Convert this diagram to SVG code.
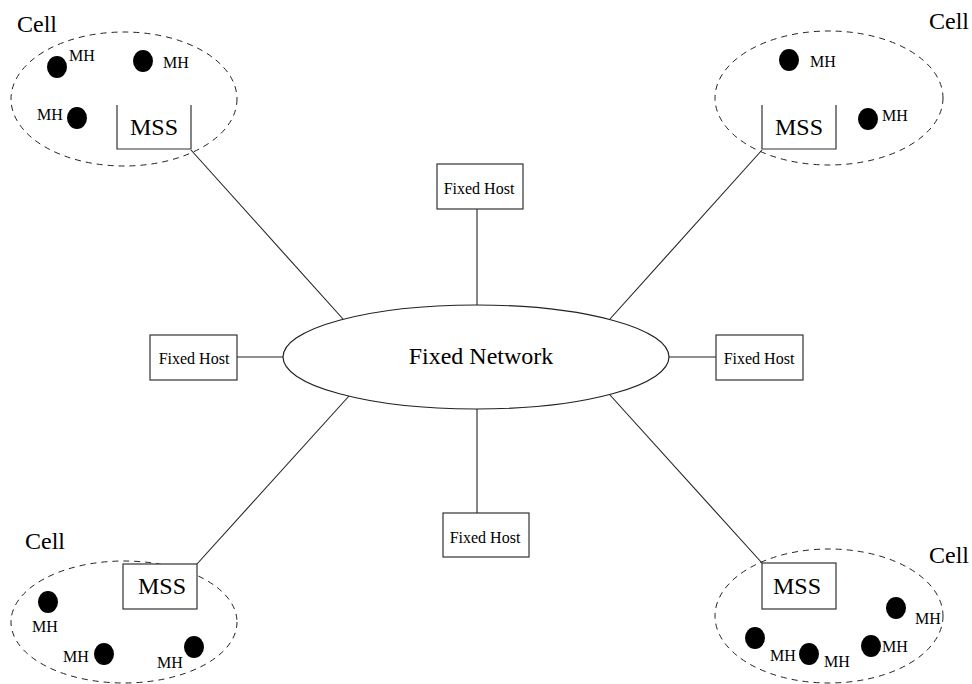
<svg xmlns="http://www.w3.org/2000/svg" width="972" height="684" viewBox="0 0 972 684">
  <style>
    .txt { font-family: "Liberation Serif", "Times New Roman", serif; fill: #000; }
    .big { font-size: 24px; }
    .host { font-size: 16px; }
    .mh { font-size: 16px; }
    .box { fill: #fff; stroke: #333; stroke-width: 1.2; }
    .cell { fill: none; stroke: #222; stroke-width: 1; stroke-dasharray: 6 5; }
    .link { fill: none; stroke: #222; stroke-width: 1.1; }
    .dot { fill: #000; }
  </style>
  <rect width="972" height="684" fill="#fff"/>

  <!-- links between the fixed network, hosts and base stations -->
  <g id="connectors">
    <line class="link" x1="477" y1="209" x2="477" y2="305"/>
    <line class="link" x1="237" y1="357" x2="283" y2="357"/>
    <line class="link" x1="669" y1="357" x2="716" y2="357"/>
    <line class="link" x1="477" y1="409" x2="477" y2="513"/>
    <line class="link" x1="191" y1="150" x2="343" y2="319"/>
    <line class="link" x1="762" y1="150" x2="610" y2="319"/>
    <line class="link" x1="197" y1="564" x2="349" y2="396"/>
    <line class="link" x1="762" y1="563" x2="610" y2="395"/>
  </g>

  <!-- central fixed network -->
  <g id="fixed-network">
    <ellipse cx="476" cy="357" rx="193" ry="52" fill="#fff" stroke="#222" stroke-width="1.2"/>
    <text class="txt big" x="481" y="364" text-anchor="middle">Fixed Network</text>
  </g>

  <!-- fixed hosts -->
  <g id="host-top">
    <rect class="box" x="437" y="164" width="86" height="45"/>
    <text class="txt host" x="479" y="194" text-anchor="middle">Fixed Host</text>
  </g>
  <g id="host-left">
    <rect class="box" x="150" y="335" width="87" height="45"/>
    <text class="txt host" x="194" y="364" text-anchor="middle">Fixed Host</text>
  </g>
  <g id="host-right">
    <rect class="box" x="716" y="335" width="87" height="45"/>
    <text class="txt host" x="759" y="364" text-anchor="middle">Fixed Host</text>
  </g>
  <g id="host-bottom">
    <rect class="box" x="443" y="513" width="86" height="44"/>
    <text class="txt host" x="485" y="543" text-anchor="middle">Fixed Host</text>
  </g>

  <!-- cell, upper left -->
  <g id="cell-top-left">
    <text class="txt big" x="17" y="32">Cell</text>
    <ellipse class="cell" cx="124" cy="99" rx="113" ry="67"/>
    <path d="M117 105 V149 H191 V105" fill="none" stroke="#333" stroke-width="1.2"/>
    <text class="txt big" x="130" y="135">MSS</text>
    <ellipse class="dot" cx="57" cy="67" rx="10" ry="11"/>
    <text class="txt mh" x="69" y="61">MH</text>
    <ellipse class="dot" cx="143" cy="61" rx="10" ry="11"/>
    <text class="txt mh" x="163" y="68">MH</text>
    <ellipse class="dot" cx="77" cy="118" rx="10" ry="11"/>
    <text class="txt mh" x="37" y="120">MH</text>
  </g>

  <!-- cell, upper right -->
  <g id="cell-top-right">
    <text class="txt big" x="929" y="29">Cell</text>
    <ellipse class="cell" cx="829" cy="98" rx="114" ry="67"/>
    <path d="M762 105 V149 H836 V105" fill="none" stroke="#333" stroke-width="1.2"/>
    <text class="txt big" x="775" y="135">MSS</text>
    <ellipse class="dot" cx="789" cy="60" rx="10" ry="11"/>
    <text class="txt mh" x="810" y="67">MH</text>
    <ellipse class="dot" cx="868" cy="119" rx="10" ry="11"/>
    <text class="txt mh" x="882" y="121">MH</text>
  </g>

  <!-- cell, lower left -->
  <g id="cell-bottom-left">
    <text class="txt big" x="25" y="549">Cell</text>
    <ellipse class="cell" cx="124" cy="622" rx="113" ry="61"/>
    <rect class="box" x="123" y="564" width="74" height="45"/>
    <text class="txt big" x="138" y="594">MSS</text>
    <ellipse class="dot" cx="48" cy="602" rx="10" ry="11"/>
    <text class="txt mh" x="32" y="632">MH</text>
    <ellipse class="dot" cx="104" cy="654" rx="10" ry="11"/>
    <text class="txt mh" x="63" y="662">MH</text>
    <ellipse class="dot" cx="194" cy="647" rx="10" ry="11"/>
    <text class="txt mh" x="157" y="668">MH</text>
  </g>

  <!-- cell, lower right -->
  <g id="cell-bottom-right">
    <text class="txt big" x="929" y="563">Cell</text>
    <ellipse class="cell" cx="829" cy="616" rx="114" ry="67"/>
    <rect class="box" x="762" y="563" width="74" height="46"/>
    <text class="txt big" x="773" y="594">MSS</text>
    <ellipse class="dot" cx="755" cy="638" rx="10" ry="11"/>
    <text class="txt mh" x="770" y="661">MH</text>
    <ellipse class="dot" cx="809" cy="654" rx="10" ry="11"/>
    <text class="txt mh" x="824" y="667">MH</text>
    <ellipse class="dot" cx="871" cy="646" rx="10" ry="11"/>
    <text class="txt mh" x="882" y="652">MH</text>
    <ellipse class="dot" cx="896" cy="608" rx="10" ry="11"/>
    <text class="txt mh" x="915" y="624">MH</text>
  </g>
</svg>
